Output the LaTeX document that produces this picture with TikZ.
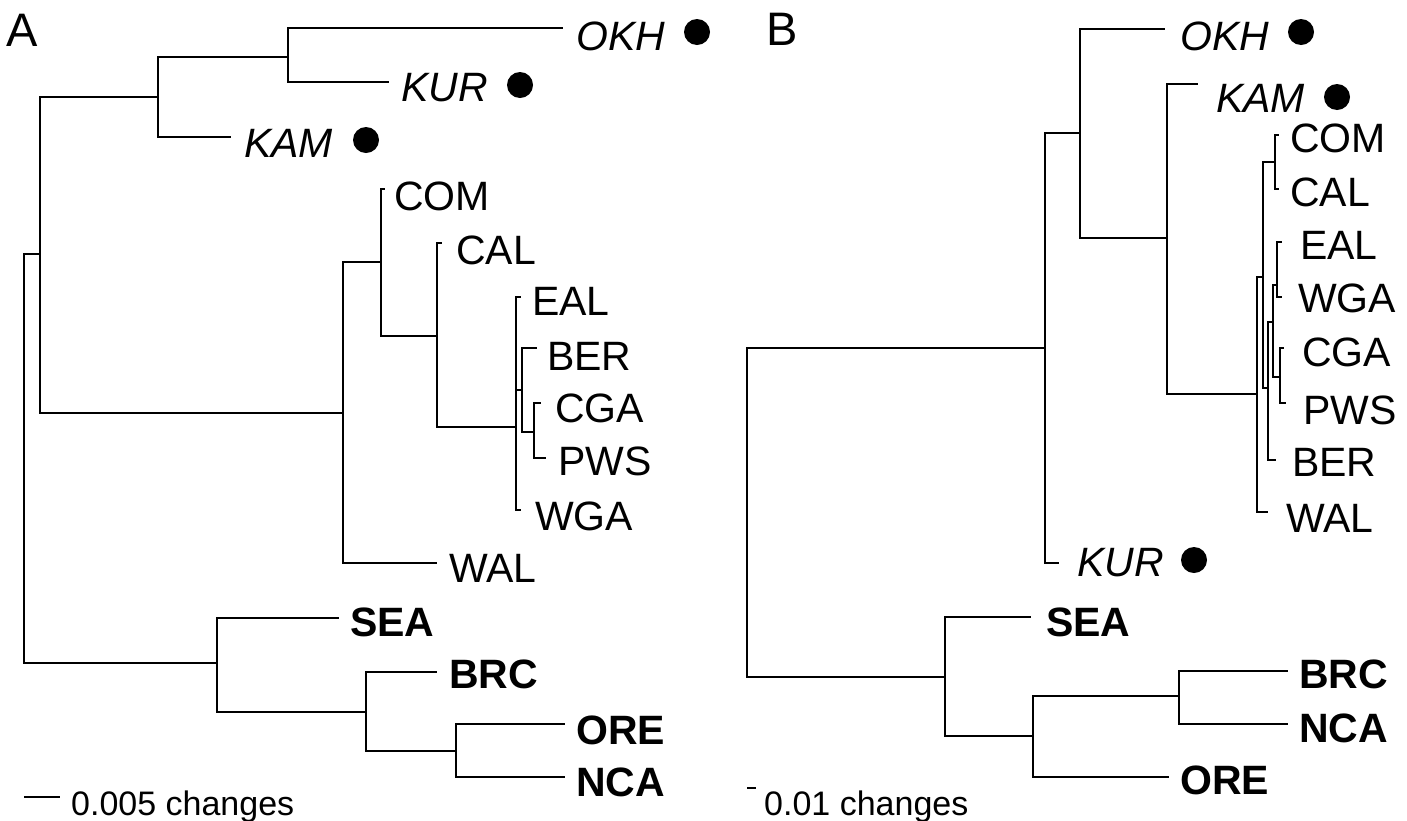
\documentclass[tikz,border=0pt]{standalone}
\usepackage{fontspec}
\setmainfont{Liberation Sans}
\begin{document}
\begin{tikzpicture}[x=1pt,y=-1pt,
  br/.style={line width=2.9pt},
  lab/.style={anchor=west,inner sep=0pt,font=\fontsize{41}{41}\selectfont},
  ilab/.style={lab,font=\fontsize{41}{41}\selectfont\itshape},
  blab/.style={lab,font=\fontsize{41}{41}\selectfont\bfseries},
  plab/.style={lab,font=\fontsize{47}{47}\selectfont},
  dot/.style={circle,fill=black,inner sep=0pt,minimum size=26pt},
  sc/.style={anchor=base west,inner sep=0pt,font=\fontsize{34}{34}\selectfont}]
\useasboundingbox (0,0) rectangle (1407,820);
% ---------------- Panel A ----------------
\coordinate (rA) at (24,458);
\coordinate (a1) at (40,254);
\coordinate (a2) at (158,97);
\coordinate (a3) at (343,413);
\coordinate (a4) at (288,57);
\coordinate (tOKHa) at (563,28);
\coordinate (tKURa) at (389,82);
\coordinate (tKAMa) at (231,137);
\coordinate (a5) at (381,262);
\coordinate (tWALa) at (437,563);
\coordinate (tCOMa) at (385,189);
\coordinate (a6) at (437,336);
\coordinate (tCALa) at (442,243);
\coordinate (a7) at (516,427);
\coordinate (tEALa) at (521,297);
\coordinate (a8) at (522,390);
\coordinate (tWGAa) at (521,510);
\coordinate (tBERa) at (537,348);
\coordinate (a9) at (534,432);
\coordinate (tCGAa) at (541,403);
\coordinate (tPWSa) at (546,458);
\coordinate (a10) at (217,663);
\coordinate (tSEAa) at (339,618);
\coordinate (a11) at (366,712);
\coordinate (tBRCa) at (437,672);
\coordinate (a12) at (456,751);
\coordinate (tOREa) at (565,724);
\coordinate (tNCAa) at (565,777);
\foreach \p/\c in {rA/a1,rA/a10,a1/a2,a1/a3,a2/a4,a2/tKAMa,a4/tOKHa,a4/tKURa,
  a3/a5,a3/tWALa,a5/tCOMa,a5/a6,a6/tCALa,a6/a7,a7/tEALa,a7/a8,a7/tWGAa,
  a8/tBERa,a8/a9,a9/tCGAa,a9/tPWSa,a10/tSEAa,a10/a11,a11/tBRCa,a11/a12,
  a12/tOREa,a12/tNCAa}
  \draw[br] (\p) |- (\c);
\node[plab] (pA) at (6,30) {A};
\node[ilab] (lOKHa) at (576,36) {OKH};
\node[dot] (dOKHa) at (697,32) {};
\node[ilab] (lKURa) at (401,88) {KUR};
\node[dot] (dKURa) at (520,85) {};
\node[ilab] (lKAMa) at (244,143) {KAM};
\node[dot] (dKAMa) at (366,140) {};
\node[lab] (lCOMa) at (394,196) {COM};
\node[lab] (lCALa) at (456,250) {CAL};
\node[lab] (lEALa) at (532,301) {EAL};
\node[lab] (lBERa) at (547,356) {BER};
\node[lab] (lCGAa) at (555,408) {CGA};
\node[lab] (lPWSa) at (558,461) {PWS};
\node[lab] (lWGAa) at (535,516) {WGA};
\node[lab] (lWALa) at (449,568) {WAL};
\node[blab] (lSEAa) at (350,622) {SEA};
\node[blab] (lBRCa) at (449,674) {BRC};
\node[blab] (lOREa) at (576,730) {ORE};
\node[blab] (lNCAa) at (576,782) {NCA};
\coordinate (sA1) at (24,797);
\coordinate (sA2) at (60,797);
\draw[br] (sA1) -- (sA2);
\node[sc] (scA) at (71,815) {0.005 changes};
% ---------------- Panel B ----------------
\coordinate (rB) at (747,512);
\coordinate (b1) at (1045,348);
\coordinate (b10) at (945,677);
\coordinate (b2) at (1080,133);
\coordinate (tKURb) at (1059,563);
\coordinate (tOKHb) at (1165,29);
\coordinate (b3) at (1167,238);
\coordinate (tKAMb) at (1198,84);
\coordinate (b4) at (1257,394);
\coordinate (b5) at (1263,277);
\coordinate (tWALb) at (1268,512);
\coordinate (b6) at (1275,162);
\coordinate (b7) at (1268,388);
\coordinate (tCOMb) at (1279,135);
\coordinate (tCALb) at (1279,189);
\coordinate (b8) at (1273,322);
\coordinate (tBERb) at (1276,460);
\coordinate (b9) at (1277,285);
\coordinate (b11) at (1280,377);
\coordinate (tEALb) at (1282,242);
\coordinate (tWGAb) at (1282,297);
\coordinate (tCGAb) at (1284,348);
\coordinate (tPWSb) at (1286,403);
\coordinate (tSEAb) at (1031,617);
\coordinate (b12) at (1033,736);
\coordinate (b13) at (1179,696);
\coordinate (tOREb) at (1169,777);
\coordinate (tBRCb) at (1288,671);
\coordinate (tNCAb) at (1288,724);
\foreach \p/\c in {rB/b1,rB/b10,b1/b2,b1/tKURb,b2/tOKHb,b2/b3,b3/tKAMb,b3/b4,
  b4/b5,b4/tWALb,b5/b6,b5/b7,b6/tCOMb,b6/tCALb,b7/b8,b7/tBERb,b8/b9,b8/b11,
  b9/tEALb,b9/tWGAb,b11/tCGAb,b11/tPWSb,b10/tSEAb,b10/b12,b12/b13,b12/tOREb,
  b13/tBRCb,b13/tNCAb}
  \draw[br] (\p) |- (\c);
\node[plab] (pB) at (766,29) {B};
\node[ilab] (lOKHb) at (1180,36) {OKH};
\node[dot] (dOKHb) at (1301,32) {};
\node[ilab] (lKAMb) at (1216,98) {KAM};
\node[dot] (dKAMb) at (1337,97) {};
\node[ilab] (lKURb) at (1077,563) {KUR};
\node[dot] (dKURb) at (1194,560) {};
\node[lab] (lCOMb) at (1290,138) {COM};
\node[lab] (lCALb) at (1290,192) {CAL};
\node[lab] (lEALb) at (1300,245) {EAL};
\node[lab] (lWGAb) at (1298,298) {WGA};
\node[lab] (lCGAb) at (1302,352) {CGA};
\node[lab] (lPWSb) at (1303,410) {PWS};
\node[lab] (lBERb) at (1292,462) {BER};
\node[lab] (lWALb) at (1286,518) {WAL};
\node[blab] (lSEAb) at (1046,622) {SEA};
\node[blab] (lBRCb) at (1299,674) {BRC};
\node[blab] (lNCAb) at (1299,728) {NCA};
\node[blab] (lOREb) at (1180,780) {ORE};
\coordinate (sB1) at (747,788);
\coordinate (sB2) at (756,788);
\draw[br] (sB1) -- (sB2);
\node[sc] (scB) at (764,815) {0.01 changes};
\end{tikzpicture}
\end{document}
